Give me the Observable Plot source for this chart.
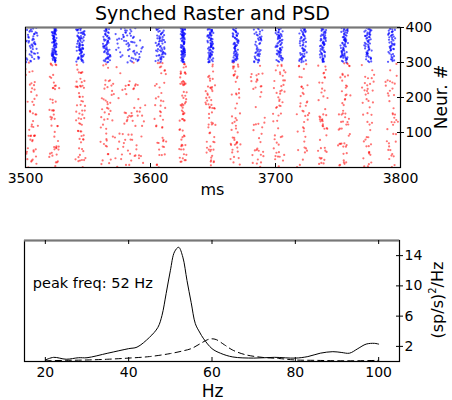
<!DOCTYPE html>
<html><head><meta charset="utf-8">
<script src="https://cdn.jsdelivr.net/npm/d3@7"></script>
<script src="https://cdn.jsdelivr.net/npm/@observablehq/plot@0.6"></script>
<style>
body{margin:0;background:#fff;font-family:"DejaVu Sans",sans-serif;}
#wrap{position:relative;width:452px;height:400px;overflow:hidden;}
#wrap svg{position:absolute;left:0;}
.lbl{position:absolute;color:#000;white-space:nowrap;font-family:"DejaVu Sans",sans-serif;line-height:1;}
</style></head>
<body><div id="wrap">
<div class="lbl" style="font-size:19px;left:0;width:425px;text-align:center;top:4px;">Synched Raster and PSD</div>
<div class="lbl" style="font-size:16px;left:0;width:425px;text-align:center;top:182px;">ms</div>
<div class="lbl" style="font-size:17px;left:0;width:425px;text-align:center;top:383px;">Hz</div>
<div class="lbl" style="font-size:17px;left:441px;top:97px;transform:translate(-50%,-50%) rotate(-90deg);">Neur. #</div>
<div class="lbl" style="font-size:16px;left:437px;top:300px;transform:translate(-50%,-50%) rotate(-90deg);">(sp/s)<sup style="font-size:10px;">2</sup>/Hz</div>
</div>
<script>
// ---- Raster data (bursts) ----
const burstTimes = [3505, 3523, 3544, 3565, 3583, 3608, 3626, 3648, 3668, 3686, 3703, 3722, 3738, 3755, 3774, 3793];
const inhWidth   = [6, 2, 3.5, 3, 11, 4, 1.8, 2.5, 2.5, 3.5, 3, 3, 2.5, 3, 3, 3];
const inhCount   = [55, 80, 75, 60, 60, 60, 80, 70, 60, 45, 60, 55, 60, 65, 55, 50];
const excWidth   = [5, 4, 4, 5, 13, 5, 3, 4, 4, 6, 5, 5, 4, 5, 5, 5];
const excCount   = [50, 50, 60, 45, 70, 45, 65, 60, 50, 40, 50, 40, 45, 55, 45, 40];
const jitter = [-0.12,0.45,-0.78,0.05,0.31,-0.4,0.9,-0.22,0.15,-0.6,0.68,-0.05,0.27,-0.95,0.52,-0.33,0.08,0.79,-0.18,-0.5,0.38,-0.7,0.12,0.6,-0.28,0.02,-0.85,0.44,0.21,-0.09,0.72,-0.45,0.33,-0.62,0.98,-0.15,0.1,-0.37,0.56,-0.02,0.25,-0.74,0.48,-0.25,0.85,-0.55,0.18,-0.88,0.36,0.0,-0.42,0.64,-0.2,0.4,-0.66,0.14,-0.3,0.75,-0.08,0.29,-0.99];
const neuronFrac = [0.03,0.51,0.27,0.88,0.14,0.66,0.39,0.95,0.21,0.73,0.08,0.58,0.34,0.81,0.47,0.12,0.69,0.99,0.25,0.55,0.05,0.77,0.42,0.18,0.91,0.36,0.62,0.1,0.84,0.29,0.53,0.71,0.16,0.45,0.97,0.23,0.6,0.01,0.79,0.32,0.49,0.86,0.07,0.64,0.38,0.93,0.2,0.57,0.75,0.11,0.44,0.68,0.3,0.89,0.15,0.52,0.82,0.26,0.61];
const rasterXTicks = [3500, 3600, 3700, 3800];
const rasterYTicks = [100, 200, 300, 400];

// ---- PSD data ----
const psdFreq  = [20,22,25,28,30,35,40,42,45,47,48,49,50,51,52,53,54,55,56,57,58,60,62,65,70,75,80,83,86,89,91,93,95,97,99,100];
const psdExc   = [0.2,0.55,0.3,0.5,0.5,1.1,1.7,1.9,3.2,4.5,6.1,9.0,12.0,14.5,15.1,13.8,10.7,7.8,5.0,3.9,3.0,1.7,1.1,0.6,0.45,0.55,0.45,0.65,1.1,1.3,1.2,1.1,1.7,2.3,2.4,2.3];
const psdFreq2 = [20,25,30,35,40,45,50,53,55,57,59,60,61,63,65,68,72,76,80,85,90,95,100];
const psdInh   = [0.1,0.15,0.2,0.3,0.45,0.65,1.05,1.4,1.7,2.3,2.9,3.0,2.9,2.2,1.5,0.9,0.55,0.4,0.2,0.15,0.1,0.1,0.15];
const psdXTicks = [20, 40, 60, 80, 100];
const psdYTicks = [2, 6, 10, 14];
const peakLabel = "peak freq: 52 Hz";

// build spike table
const spikes = [];
burstTimes.forEach((t, b) => {
  const shift = (b * 0.618) % 1;
  for (let k = 0; k < inhCount[b]; k++) {
    const j = jitter[(k * 23 + 11 * b) % jitter.length];
    const f = neuronFrac[(k * 17 + 7 * b) % neuronFrac.length];
    spikes.push({t: t + inhWidth[b] * j, n: 300 + 100 * ((f + shift) % 1), pop: "I"});
  }
  for (let k = 0; k < excCount[b]; k++) {
    const j = jitter[(k * 29 + 5 * b + 3) % jitter.length];
    const f = neuronFrac[(k * 13 + 19 * b + 1) % neuronFrac.length];
    const g = neuronFrac[(k * 7 + 3 * b + 5) % neuronFrac.length];
    spikes.push({t: t + excWidth[b] * j, n: 300 * ((f + g * 0.37 + shift) % 1), pop: "E"});
  }
});

const font = {fontFamily: "DejaVu Sans, sans-serif", fontSize: "14px", color: "#000", background: "transparent"};

const rasterPlot = Plot.plot({
  width: 452, height: 200,
  marginLeft: 25, marginRight: 52, marginTop: 27, marginBottom: 33,
  style: font,
  x: {domain: [3500, 3800]},
  y: {domain: [0, 400]},
  marks: [
    Plot.dot(spikes.filter(d => d.pop === "E"), {x: "t", y: "n", r: 1.1, fill: "#ff0000", fillOpacity: 0.55, clip: true}),
    Plot.dot(spikes.filter(d => d.pop === "I"), {x: "t", y: "n", r: 1.1, fill: "#0000ff", fillOpacity: 0.65, clip: true}),
    Plot.frame({stroke: "#000", strokeWidth: 1.2}),
    Plot.ruleY([400], {stroke: "#777", strokeWidth: 2}),
    Plot.tickX(rasterXTicks, {x: d => d, insetTop: 136, stroke: "#000"}),
    Plot.tickX(rasterXTicks, {x: d => d, insetBottom: 136, stroke: "#000"}),
    Plot.tickY(rasterYTicks, {y: d => d, insetLeft: 372, stroke: "#000"}),
    Plot.axisX({ticks: rasterXTicks, tickSize: 0, tickPadding: 6, label: null, tickFormat: d => String(d)}),
    Plot.axisY({anchor: "right", ticks: rasterYTicks, tickSize: 3, tickPadding: 2, label: null, tickFormat: d => String(d)})
  ]
});
rasterPlot.style.top = "0px";

const psdPlot = Plot.plot({
  width: 452, height: 200,
  marginLeft: 24, marginRight: 53, marginTop: 40, marginBottom: 39,
  style: font,
  x: {domain: [15, 105]},
  y: {domain: [0, 16]},
  marks: [
    Plot.line(psdFreq2.map((f, i) => ({f, p: psdInh[i]})), {x: "f", y: "p", stroke: "#000", strokeWidth: 1, strokeDasharray: "6,4", curve: "catmull-rom"}),
    Plot.line(psdFreq.map((f, i) => ({f, p: psdExc[i]})), {x: "f", y: "p", stroke: "#000", strokeWidth: 1, curve: "catmull-rom"}),
    Plot.frame({stroke: "#000", strokeWidth: 1.2}),
    Plot.ruleY([16], {stroke: "#777", strokeWidth: 2}),
    Plot.tickX(psdXTicks, {x: d => d, insetTop: 117, stroke: "#000"}),
    Plot.tickX(psdXTicks, {x: d => d, insetBottom: 117, stroke: "#000"}),
    Plot.tickY(psdYTicks, {y: d => d, insetLeft: 372, stroke: "#000"}),
    Plot.text([peakLabel], {x: 17, y: 10.3, text: d => d, textAnchor: "start", fontSize: 14.5, fill: "#000"}),
    Plot.axisX({ticks: psdXTicks, tickSize: 0, tickPadding: 6, label: null, tickFormat: d => String(d)}),
    Plot.axisY({anchor: "right", ticks: psdYTicks, tickSize: 3, tickPadding: 2, label: null, tickFormat: d => String(d)})
  ]
});
psdPlot.style.top = "200px";

const wrap = document.getElementById("wrap");
wrap.appendChild(rasterPlot);
wrap.appendChild(psdPlot);
</script>
</body></html>
